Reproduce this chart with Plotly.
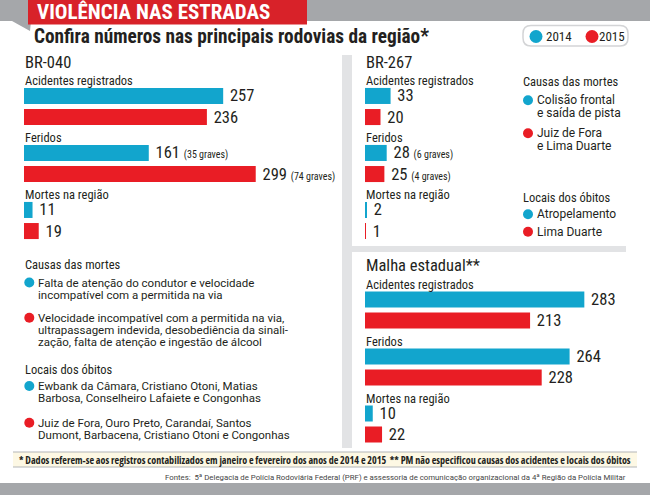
import plotly.graph_objects as go

W, H = 650, 495

# ---- data ----
categories = ["Acidentes registrados", "Feridos", "Mortes na região"]
years = ["2014", "2015"]

br040_2014 = [257, 161, 11]
br040_2015 = [236, 299, 19]
br040_graves_2014 = [None, 35, None]
br040_graves_2015 = [None, 74, None]

br267_2014 = [33, 28, 2]
br267_2015 = [20, 25, 1]
br267_graves_2014 = [None, 6, None]
br267_graves_2015 = [None, 4, None]

malha_2014 = [283, 264, 10]
malha_2015 = [213, 228, 22]

br040_causas_2014 = ["Falta de atenção do condutor e velocidade",
                     "incompatível com a permitida na via"]
br040_causas_2015 = ["Velocidade incompatível com a permitida na via,",
                     "ultrapassagem indevida, desobediência da sinali-",
                     "zação, falta de atenção e ingestão de álcool"]
br040_locais_2014 = ["Ewbank da Câmara, Cristiano Otoni, Matias",
                     "Barbosa, Conselheiro Lafaiete e Congonhas"]
br040_locais_2015 = ["Juiz de Fora, Ouro Preto, Carandaí, Santos",
                     "Dumont, Barbacena, Cristiano Otoni e Congonhas"]
br267_causas_2014 = ["Colisão frontal", "e saída de pista"]
br267_causas_2015 = ["Juiz de Fora", "e Lima Duarte"]
br267_locais_2014 = ["Atropelamento"]
br267_locais_2015 = ["Lima Duarte"]

title = "VIOLÊNCIA NAS ESTRADAS"
subtitle = "Confira números nas principais rodovias da região*"
footnote = ("* Dados referem-se aos registros contabilizados em janeiro e fevereiro dos anos de 2014 e 2015"
            "&nbsp;&nbsp;** PM não especificou causas dos acidentes e locais dos óbitos")
sources = ("Fontes:&nbsp; 5ª Delegacia de Polícia Rodoviária Federal (PRF) e assessoria de comunicação "
           "organizacional da 4ª Região da Polícia Militar")

# ---- styles ----
BLUE = "#12a5cd"
RED = "#e91d25"
INK = "#231f20"
GRAY = "#a5a7aa"
LIGHT = "#e2e3e5"
COND = "Roboto Condensed, DejaVu Sans Condensed, sans-serif"
REG = "Roboto, Liberation Sans, sans-serif"
SCALE = 0.775  # pixels per unit


def px(x):
    return x / W


def py(y):
    return 1 - y / H


def bar_text(vals, graves):
    out = []
    for v, g in zip(vals, graves):
        s = f"&nbsp;{v}"
        if g is not None:
            s += f" <span style='font-size:10px'>({g} graves)</span>"
        out.append(s)
    return out


fig = go.Figure()


def add_pair(v14, v15, g14, g15, xa, ya):
    for vals, graves, color, name in ((v14, g14, BLUE, years[0]), (v15, g15, RED, years[1])):
        fig.add_trace(go.Bar(
            x=vals, y=categories, orientation="h", name=name,
            marker=dict(color=color, line_width=0),
            text=bar_text(vals, graves), texttemplate="%{text}",
            textposition="outside", constraintext="none", cliponaxis=False,
            outsidetextfont=dict(family=COND, size=16.5, color=INK),
            hoverinfo="skip", showlegend=False, xaxis=xa, yaxis=ya,
        ))


none3 = [None, None, None]
add_pair(br040_2014, br040_2015, br040_graves_2014, br040_graves_2015, "x", "y")
add_pair(br267_2014, br267_2015, br267_graves_2014, br267_graves_2015, "x2", "y")
add_pair(malha_2014, malha_2015, none3, none3, "x2", "y2")

ycat = dict(type="category", categoryorder="array", categoryarray=categories,
            range=[2.5, -0.5], visible=False, fixedrange=True)

fig.update_layout(
    width=W, height=H, margin=dict(l=0, r=0, t=0, b=0),
    paper_bgcolor="white", plot_bgcolor="rgba(0,0,0,0)",
    bargap=0.26, bargroupgap=0.24,
    xaxis=dict(domain=[px(24), 1], range=[0, (W - 24) / SCALE], visible=False, anchor="y"),
    xaxis2=dict(domain=[px(365), 1], range=[0, (W - 365) / SCALE], visible=False, anchor="y"),
    yaxis=dict(domain=[py(249), py(78)], anchor="x", **ycat),
    yaxis2=dict(domain=[py(452.5), py(281.5)], anchor="x2", **ycat),
)

# ---- decoration ----
shapes = [
    dict(type="rect", x0=0, x1=1, y0=py(21), y1=1, fillcolor=GRAY),
    dict(type="path", path=f"M {px(12)},{py(21)} L {px(31)},{py(21)} L {px(30)},{py(31)} Z",
         fillcolor=GRAY),
    dict(type="rect", x0=px(28), x1=px(307), y0=py(24.5), y1=1, fillcolor="#d82229"),
    dict(type="rect", x0=px(342), x1=px(352), y0=py(448), y1=py(55), fillcolor=LIGHT),
    dict(type="rect", x0=px(352), x1=px(626), y0=py(252), y1=py(246), fillcolor=LIGHT),
    dict(type="rect", x0=px(13), x1=px(637), y0=py(467), y1=py(452), fillcolor="#fdf8e4"),
    dict(type="line", x0=px(13), x1=px(637), y0=py(452), y1=py(452),
         line=dict(color="#b4b6b8", width=1.2)),
    dict(type="line", x0=px(13), x1=px(637), y0=py(467), y1=py(467),
         line=dict(color="#b4b6b8", width=1.2)),
    dict(type="rect", x0=0, x1=1, y0=0, y1=py(483), fillcolor=GRAY),
]
r = 8
lx0, lx1, ly0, ly1 = 523, 628, 25.5, 46
shapes.append(dict(
    type="path", fillcolor="white", line=dict(color="#d3d4d6", width=1.5),
    path=(f"M {px(lx0 + r)},{py(ly0)} L {px(lx1 - r)},{py(ly0)} "
          f"Q {px(lx1)},{py(ly0)} {px(lx1)},{py(ly0 + r)} L {px(lx1)},{py(ly1 - r)} "
          f"Q {px(lx1)},{py(ly1)} {px(lx1 - r)},{py(ly1)} L {px(lx0 + r)},{py(ly1)} "
          f"Q {px(lx0)},{py(ly1)} {px(lx0)},{py(ly1 - r)} L {px(lx0)},{py(ly0 + r)} "
          f"Q {px(lx0)},{py(ly0)} {px(lx0 + r)},{py(ly0)} Z"),
))


def dot(cx, cy, d, color):
    shapes.append(dict(type="circle", x0=px(cx - d / 2), x1=px(cx + d / 2),
                       y0=py(cy + d / 2), y1=py(cy - d / 2), fillcolor=color))


ann = []


def text(x, y, t, size, family=COND, color=INK, anchor="left", weight="normal"):
    ann.append(dict(x=px(x), y=py(y), xref="paper", yref="paper", text=t, showarrow=False,
                    xanchor=anchor, yanchor="middle",
                    font=dict(family=family, size=size, color=color, weight=weight)))


text(35, 12, title, 21, color="white", weight="bold")
text(32, 36, subtitle, 19.3, weight="bold")

# legend
for cx, xt, c, lab in ((536, 543.5, BLUE, years[0]), (592, 596.5, RED, years[1])):
    dot(cx, 36.5, 13, c)
    text(xt, 36.5, lab, 13)

text(23, 62, "BR-040", 16.5)
text(364, 62, "BR-267", 16.5)
text(364, 265, "Malha estadual**", 16.5)

# group labels above bars
for xa, ya in (("x", "y"), ("x2", "y"), ("x2", "y2")):
    for cat in categories:
        ann.append(dict(x=0, y=cat, xref=xa, yref=ya, text=cat, showarrow=False,
                        xanchor="left", yanchor="middle", yshift=26, xshift=-1,
                        font=dict(family=COND, size=12.5, color=INK)))


def bullet_block(xb, xt, y0, lines, color, size, spacing, d=10):
    dot(xb, y0, d, color)
    for i, line in enumerate(lines):
        text(xt, y0 + i * spacing, line, size, family=REG)


text(23, 264, "Causas das mortes", 12.5)
bullet_block(29.3, 36, 282.5, br040_causas_2014, BLUE, 11.5, 12)
bullet_block(29.3, 36, 317.7, br040_causas_2015, RED, 11.5, 12)
text(23, 369, "Locais dos óbitos", 12.5)
bullet_block(29.3, 36, 386, br040_locais_2014, BLUE, 11.5, 12)
bullet_block(29.3, 36, 422.7, br040_locais_2015, RED, 11.5, 12)

text(521, 81.7, "Causas das mortes", 12.5)
bullet_block(528, 535, 100.3, br267_causas_2014, BLUE, 12, 13)
bullet_block(528, 535, 133.3, br267_causas_2015, RED, 12, 13)
text(521, 197.7, "Locais dos óbitos", 12.5)
bullet_block(528, 535, 214.3, br267_locais_2014, BLUE, 12, 13)
bullet_block(528, 535, 231.7, br267_locais_2015, RED, 12, 13)

text(325, 459.5, "<span style='font-stretch:condensed'>" + footnote + "</span>", 10.1,
     family="Open Sans, sans-serif", anchor="center", weight=700)
text(628, 477, sources, 7.8, family=REG, color="#444444", anchor="right")

for s in shapes:
    s.setdefault("xref", "paper")
    s.setdefault("yref", "paper")
    s.setdefault("line", dict(width=0))
    s["layer"] = "below"
fig.update_layout(shapes=shapes, annotations=ann)

fig.write_html("out.html", config={"displayModeBar": False},
               post_script="document.body.style.margin='0';")
